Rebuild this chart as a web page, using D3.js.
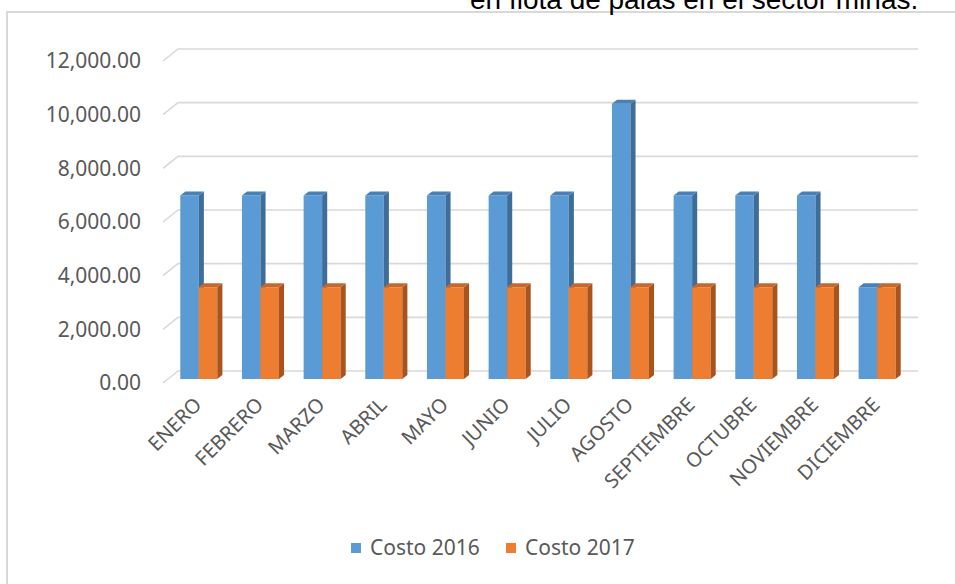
<!DOCTYPE html>
<html>
<head>
<meta charset="utf-8">
<script src="https://cdn.jsdelivr.net/npm/d3@7"></script>
<style>
  body { margin: 0; background: #fff; }
  svg { display: block; }
</style>
</head>
<body>
<div id="plot"></div>
<script>
// data
var months = ["ENERO", "FEBRERO", "MARZO", "ABRIL", "MAYO", "JUNIO", "JULIO",
    "AGOSTO", "SEPTIEMBRE", "OCTUBRE", "NOVIEMBRE", "DICIEMBRE"];
var series = ["Costo 2016", "Costo 2017"];
var costo2016 = [6840, 6840, 6840, 6840, 6840, 6840, 6840, 10260, 6840, 6840, 6840, 3420];
var costo2017 = [3420, 3420, 3420, 3420, 3420, 3420, 3420, 3420, 3420, 3420, 3420, 3420];
var yTicks = [0, 2000, 4000, 6000, 8000, 10000, 12000];
var titleTail = "en flota de palas en el sector minas.";

var width = 955;
var height = 584;

// front plane and 3d depth of the floor
var depth = { dx: 15, dy: -12 };
var barDepth = { front: 0.33, back: 0.67 };

var faces = {
    "Costo 2016": { front: "#5b9bd5", side: "#3e6d99", top: "#4a80b3" },
    "Costo 2017": { front: "#ed7d31", side: "#a9541e", top: "#c8672a" }
};
var gridColor = "#d9d9d9";
var textColor = "#595959";
var font = "'Noto Sans', sans-serif";

var svg = d3.select("#plot").append("svg")
    .attr("width", width)
    .attr("height", height);

// outer frame (left + top edges visible)
svg.append("path")
    .attr("d", "M7," + height + "V12H" + width)
    .attr("fill", "none")
    .attr("stroke", gridColor)
    .attr("stroke-width", 2);

// cut-off caption above the chart
svg.append("text")
    .attr("x", 470)
    .attr("y", 9)
    .attr("font-family", "'Liberation Sans', Arial, sans-serif")
    .attr("font-size", 28)
    .attr("fill", "#000")
    .text(titleTail);

var x0 = d3.scaleBand()
    .domain(months)
    .range([163, 903]);

var x1 = d3.scaleBand()
    .domain(series)
    .range([x0.bandwidth() * 0.2, x0.bandwidth() * 0.8]);

var y = d3.scaleLinear()
    .domain([0, 12000])
    .range([383, 61]);

// gridlines: slanted floor edge then the back wall line
svg.append("g")
    .selectAll("path")
    .data(yTicks)
    .enter()
    .append("path")
    .attr("d", function(d) {
        var yy = y(d);
        return "M" + x0.range()[0] + "," + yy +
            "l" + depth.dx + "," + depth.dy +
            "H" + (x0.range()[1] + depth.dx);
    })
    .attr("fill", "none")
    .attr("stroke", gridColor)
    .attr("stroke-width", 1.6);

// y axis labels
var yAxis = svg.append("g")
    .attr("transform", "translate(141,0)")
    .call(d3.axisLeft(y)
        .tickValues(yTicks)
        .tickSize(0)
        .tickPadding(0)
        .tickFormat(d3.format(",.2f")));
yAxis.select(".domain").remove();
yAxis.selectAll("text")
    .attr("font-family", font)
    .attr("font-size", 21)
    .attr("fill", textColor);

// bars with front, side and top faces
var rows = [];
months.forEach(function(m, i) {
    rows.push({ month: m, key: "Costo 2016", value: costo2016[i] });
    rows.push({ month: m, key: "Costo 2017", value: costo2017[i] });
});

var fdx = depth.dx * barDepth.front, fdy = depth.dy * barDepth.front;
var bdx = depth.dx * (barDepth.back - barDepth.front);
var bdy = depth.dy * (barDepth.back - barDepth.front);

var bars = svg.append("g")
    .selectAll("g")
    .data(rows)
    .enter()
    .append("g");

function geom(d) {
    var xl = x0(d.month) + x1(d.key) + fdx;
    var w = x1.bandwidth();
    var yt = y(d.value) + fdy;
    var yb = y(0) + fdy;
    return { xl: xl, xr: xl + w, yt: yt, yb: yb };
}

bars.append("rect")
    .attr("x", function(d) { return geom(d).xl; })
    .attr("y", function(d) { return geom(d).yt; })
    .attr("width", x1.bandwidth())
    .attr("height", function(d) { var g = geom(d); return g.yb - g.yt; })
    .attr("fill", function(d) { return faces[d.key].front; });

bars.append("path")
    .attr("d", function(d) {
        var g = geom(d);
        return "M" + g.xr + "," + g.yt + "l" + bdx + "," + bdy +
            "V" + (g.yb + bdy) + "L" + g.xr + "," + g.yb + "Z";
    })
    .attr("fill", function(d) { return faces[d.key].side; });

bars.append("path")
    .attr("d", function(d) {
        var g = geom(d);
        return "M" + g.xl + "," + g.yt + "l" + bdx + "," + bdy +
            "H" + (g.xr + bdx) + "L" + g.xr + "," + g.yt + "Z";
    })
    .attr("fill", function(d) { return faces[d.key].top; });

// rotated month labels
svg.append("g")
    .selectAll("text")
    .data(months)
    .enter()
    .append("text")
    .attr("transform", function(d) {
        var px = x0(d) + x0.bandwidth() / 2 + 9;
        return "translate(" + px + ",406) rotate(-45)";
    })
    .attr("text-anchor", "end")
    .attr("font-family", font)
    .attr("font-size", 20)
    .attr("fill", textColor)
    .text(function(d) { return d; });

// legend
var legendX = [351, 506];
var legend = svg.append("g")
    .selectAll("g")
    .data(series)
    .enter()
    .append("g")
    .attr("transform", function(d, i) { return "translate(" + legendX[i] + ",543)"; });

legend.append("rect")
    .attr("width", 10)
    .attr("height", 10)
    .attr("fill", function(d) { return faces[d].front; });

legend.append("text")
    .attr("x", 19)
    .attr("y", 5)
    .attr("dy", "0.35em")
    .attr("font-family", font)
    .attr("font-size", 21)
    .attr("fill", textColor)
    .text(function(d) { return d; });
</script>
</body>
</html>
